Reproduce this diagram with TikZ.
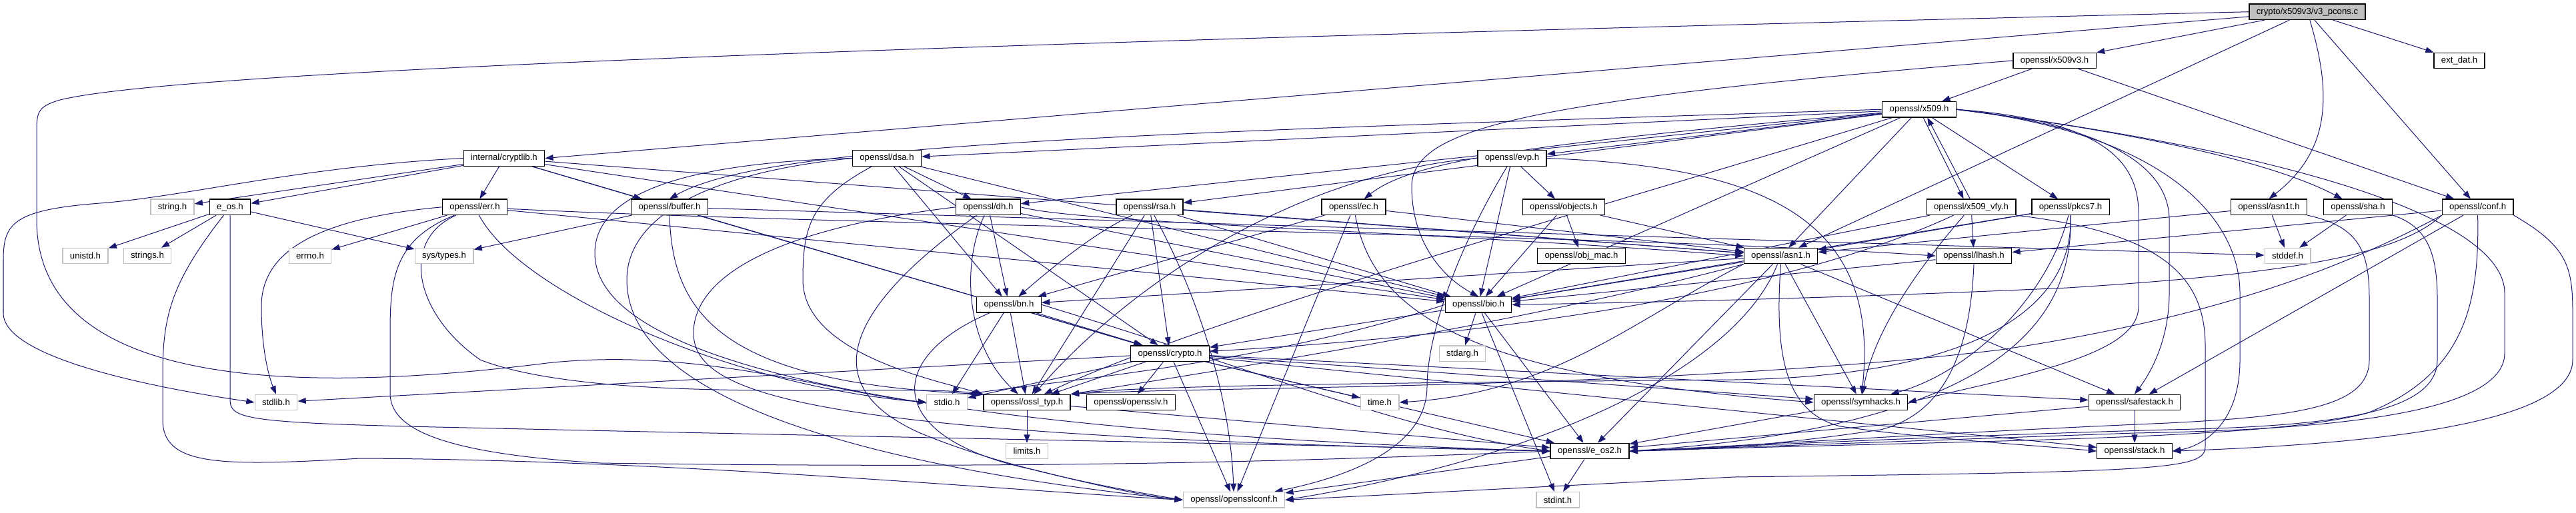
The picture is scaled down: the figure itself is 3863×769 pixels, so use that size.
\documentclass[tikz,border=0pt]{standalone}
\usepackage{fontspec}
\setmainfont{Liberation Sans}
\usepackage{xcolor}
\usetikzlibrary{arrows.meta}
\usetikzlibrary{backgrounds}
\definecolor{dxblue}{RGB}{25,25,112}
\definecolor{dxgrey}{RGB}{191,191,191}

\begin{document}
\begin{tikzpicture}[
    x=0.02cm, y=-0.02cm,
    %% ── Node styles ─────────────────────────────────────────────
    hdr/.style  ={draw=black, line width=0.75pt, fill=white,
                  minimum height=13.3pt, inner xsep=6.2pt, inner ysep=0pt,
                  font=\fontsize{7.5pt}{9pt}\selectfont},
    sysh/.style ={hdr, draw=dxgrey},
    srcf/.style ={hdr, fill=dxgrey},
    arr/.style  ={-{Triangle[length=7pt,width=5pt]}, line width=0.57pt, draw=dxblue}
]
    \useasboundingbox (0,0) rectangle (3863,769);

    %% ── Nodes ──────────────────────────────────────────────────
    \node[srcf] (src)       at (3460,  17.7) {crypto/x509v3/v3\_pcons.c};

    \node[hdr]  (xvthree)   at (3081,  91.0) {openssl/x509v3.h};
    \node[hdr]  (extdat)    at (3688,  91.0) {ext\_dat.h};

    \node[hdr]  (xfivenine) at (2878, 164.2) {openssl/x509.h};

    \node[hdr]  (cryptlib)  at (756,  237.5) {internal/cryptlib.h};
    \node[hdr]  (dsa)       at (1330, 237.5) {openssl/dsa.h};
    \node[hdr]  (evp)       at (2267.5,237.5) {openssl/evp.h};

    \node[sysh] (stringh)   at (258.5,310.8) {string.h};
    \node[hdr]  (eos)       at (345,  310.8) {e\_os.h};
    \node[hdr]  (err)       at (712,  310.8) {openssl/err.h};
    \node[hdr]  (buffer)    at (1004, 310.8) {openssl/buffer.h};
    \node[hdr]  (dh)        at (1482, 310.8) {openssl/dh.h};
    \node[hdr]  (rsa)       at (1724, 310.8) {openssl/rsa.h};
    \node[hdr]  (ec)        at (2030, 310.8) {openssl/ec.h};
    \node[hdr]  (objects)   at (2345, 310.8) {openssl/objects.h};
    \node[hdr]  (xvfy)      at (2956, 310.8) {openssl/x509\_vfy.h};
    \node[hdr]  (pkcs)      at (3105, 310.8) {openssl/pkcs7.h};
    \node[hdr]  (asnt)      at (3402.5,310.8) {openssl/asn1t.h};
    \node[hdr]  (sha)       at (3536, 310.8) {openssl/sha.h};
    \node[hdr]  (conf)      at (3715.6,310.8) {openssl/conf.h};

    \node[sysh] (unistd)    at (128,  384.1) {unistd.h};
    \node[sysh] (strings)   at (221,  384.1) {strings.h};
    \node[sysh] (errno)     at (465,  384.1) {errno.h};
    \node[sysh] (systypes)  at (666,  384.1) {sys/types.h};
    \node[hdr]  (objmac)    at (2371.5,384.1) {openssl/obj\_mac.h};
    \node[hdr]  (asn)       at (2670.5,384.1) {openssl/asn1.h};
    \node[hdr]  (lhash)     at (2960, 384.1) {openssl/lhash.h};
    \node[sysh] (stddef)    at (3430.5,384.1) {stddef.h};

    \node[hdr]  (bn)        at (1513, 457.3) {openssl/bn.h};
    \node[hdr]  (bio)       at (2217, 457.3) {openssl/bio.h};

    \node[hdr]  (crypto)    at (1754.5,530.6) {openssl/crypto.h};
    \node[sysh] (stdarg)    at (2193, 530.6) {stdarg.h};

    \node[sysh] (stdlib)    at (414,  603.9) {stdlib.h};
    \node[sysh] (stdio)     at (1420, 603.9) {stdio.h};
    \node[hdr]  (ossltyp)   at (1540, 603.9) {openssl/ossl\_typ.h};
    \node[hdr]  (opensslv)  at (1696, 603.9) {openssl/opensslv.h};
    \node[sysh] (timeh)     at (2069, 603.9) {time.h};
    \node[hdr]  (symhacks)  at (2790.5,603.9) {openssl/symhacks.h};
    \node[hdr]  (safestack) at (3201, 603.9) {openssl/safestack.h};

    \node[sysh] (limits)    at (1540, 677.1) {limits.h};
    \node[hdr]  (eostwo)    at (2384, 677.1) {openssl/e\_os2.h};
    \node[hdr]  (stack)     at (3201, 677.1) {openssl/stack.h};

    \node[sysh] (osslconf)  at (1850.5,750.4) {openssl/opensslconf.h};
    \node[sysh] (stdint)    at (2336, 750.4) {stdint.h};

    %% ── Arrows ──────────────────────────────────────────────────
    \begin{scope}[on background layer]
    % v3_pcons.c
    \draw[arr] (src.west) .. controls (1200,70) and (250,110) .. (90,150) .. controls (55,160) and (55,170) .. (55,200) -- (55,330) .. controls (55,600) and (500,585) .. (820,545) .. controls (1050,520) and (1250,590) .. (stdio.west);
    \draw[arr] (src) -- (cryptlib.east);
    \draw[arr] (src) -- (xvthree);
    \draw[arr] (src) -- (asn);
    \draw[arr] (src) .. controls (3500,150) and (3490,230) .. (asnt.north);
    \draw[arr] (src) -- (conf);
    \draw[arr] (src) -- (extdat);

    % x509v3.h
    \draw[arr] (xvthree) -- (xfivenine);
    \draw[arr] (xvthree) -- (conf);
    \draw[arr] (xvthree.west) .. controls (2300,150) and (2117,190) .. (2117,280) .. controls (2117,370) and (2170,420) .. (bio.north);

    % x509.h
    \draw[arr] (xfivenine) -- (dsa);
    \draw[arr] (xfivenine) -- (evp);
    \draw[arr] (xfivenine.west) .. controls (1700,200) and (1150,215) .. (buffer.north);
    \draw[arr] (xfivenine) -- (dh);
    \draw[arr] (xfivenine) -- (rsa);
    \draw[arr] (xfivenine) .. controls (2300,215) and (2120,240) .. (ec);
    \draw[arr] (xfivenine) -- (bio);
    \draw[arr] (xfivenine) -- (asn);
    \draw[arr] (xfivenine) -- ([xshift=-6.5pt]xvfy.north);
    \draw[arr] ([xshift=-1pt]xvfy.north) -- ([xshift=7pt]xfivenine.south);
    \draw[arr] (xfivenine) -- (pkcs);
    \draw[arr] (xfivenine.east) .. controls (3250,205) and (3420,250) .. (sha);
    \draw[arr] (xfivenine.east) .. controls (3150,180) and (3207,240) .. (3207,320) -- (3207,460) .. controls (3207,530) and (3050,560) .. (symhacks.east);
    \draw[arr] (xfivenine.east) .. controls (3180,190) and (3253,260) .. (3253,330) -- (3253,440) .. controls (3253,510) and (3225,560) .. (safestack.north);
    \draw[arr] (xfivenine.east) .. controls (3250,200) and (3359,330) .. (3359,440) -- (3359,540) .. controls (3359,640) and (3300,670) .. (stack.east);
    \draw[arr] (xfivenine.east) .. controls (3450,230) and (3756,330) .. (3756,440) -- (3756,530) .. controls (3756,620) and (3500,645) .. (3200,650) -- (eostwo.east);
    \draw[arr] (xfivenine) .. controls (2400,310) and (1800,480) .. (ossltyp);

    % internal/cryptlib.h
    \draw[arr] (cryptlib) -- (stringh);
    \draw[arr] (cryptlib) -- (eos);
    \draw[arr] (cryptlib) -- (err);
    \draw[arr] (cryptlib.west) .. controls (450,250) and (280,295) .. (150,305) .. controls (20,315) and (5,335) .. (5,390) -- (5,470) .. controls (5,540) and (250,585) .. (stdlib.west);
    \draw[arr] (cryptlib) -- (buffer);
    \draw[arr] (cryptlib) -- (crypto);
    \draw[arr] (cryptlib) -- (bio);
    \draw[arr] (cryptlib) -- (asn);

    % e_os.h
    \draw[arr] (eos) -- (unistd);
    \draw[arr] (eos) -- (strings);
    \draw[arr] (eos) -- (systypes);
    \draw[arr] (eos.south) -- (345,600) .. controls (345,630) and (370,635) .. (700,642) .. controls (1500,660) and (2000,668) .. (eostwo.west);
    \draw[arr] (eos) .. controls (260,420) and (244,470) .. (244,560) -- (244,630) .. controls (244,700) and (330,700) .. (540,688) .. controls (1000,690) and (1500,735) .. (osslconf.west);

    % openssl/err.h
    \draw[arr] (err) -- (errno);
    \draw[arr] (err.west) .. controls (450,330) and (392,390) .. (392,460) .. controls (392,530) and (405,570) .. (stdlib.north);
    \draw[arr] (err) .. controls (1300,340) and (2400,350) .. (lhash.west);
    \draw[arr] (err) -- (bio);
    \draw[arr] (err) .. controls (780,440) and (1100,580) .. (stdio.west);
    \draw[arr] (err) .. controls (600,360) and (620,470) .. (720,540) .. controls (900,610) and (1350,575) .. (ossltyp.north west);
    \draw[arr] (err) .. controls (590,360) and (585,420) .. (585,500) -- (585,590) .. controls (585,640) and (650,680) .. (900,695) .. controls (1600,705) and (2000,690) .. (eostwo.west);

    % openssl/buffer.h
    \draw[arr] (buffer) -- (systypes);
    \draw[arr] (buffer.south) .. controls (1008,470) and (1080,575) .. (ossltyp.north west);
    \draw[arr] (buffer) -- (crypto);
    \draw[arr] (buffer) -- (stddef);

    % openssl/dsa.h
    \draw[arr] (dsa) -- (dh);
    \draw[arr] (dsa) -- (bn);
    \draw[arr] (dsa) -- (bio);
    \draw[arr] (dsa) -- (crypto);
    \draw[arr] (dsa) .. controls (1215,300) and (1204,340) .. (1204,420) .. controls (1204,530) and (1400,570) .. (ossltyp.north west);
    \draw[arr] (dsa.west) .. controls (1000,245) and (892,300) .. (892,380) .. controls (892,560) and (1450,650) .. (eostwo.west);
    \draw[arr] (dsa.west) .. controls (1050,260) and (940,330) .. (940,420) .. controls (940,600) and (1300,700) .. (osslconf.west);

    % openssl/dh.h
    \draw[arr] (dh) -- (bn);
    \draw[arr] (dh.east) .. controls (1620,335) and (2100,345) .. (asn.west);
    \draw[arr] (dh) -- (bio);
    \draw[arr] (dh) .. controls (1440,400) and (1450,520) .. (ossltyp);
    \draw[arr] (dh.west) .. controls (1150,345) and (1040,420) .. (1040,500) .. controls (1040,600) and (1250,655) .. (eostwo.west);
    \draw[arr] (dh) .. controls (1300,440) and (1200,570) .. (1380,650) .. controls (1500,700) and (1650,730) .. (osslconf.west);

    % openssl/rsa.h
    \draw[arr] (rsa) -- (asn);
    \draw[arr] (rsa) -- (bio);
    \draw[arr] (rsa) -- (crypto);
    \draw[arr] (rsa) -- (ossltyp);
    \draw[arr] (rsa) .. controls (1640,350) and (1580,400) .. (bn);
    \draw[arr] (rsa) .. controls (1800,450) and (1845,600) .. (osslconf);

    % openssl/ec.h
    \draw[arr] (ec) -- (asn);
    \draw[arr] (ec) -- (bn);
    \draw[arr] (ec) -- (osslconf);
    \draw[arr] (ec) .. controls (2060,470) and (2200,565) .. (symhacks.west);

    % openssl/evp.h
    \draw[arr] (evp) -- (objects);
    \draw[arr] (evp) -- (bio);
    \draw[arr] (evp) .. controls (2170,400) and (2140,520) .. (2140,580) .. controls (2140,680) and (2000,720) .. (osslconf);
    \draw[arr] (evp.west) .. controls (1950,260) and (1700,420) .. (ossltyp);
    \draw[arr] (evp.east) .. controls (2650,250) and (2820,330) .. (symhacks);

    % openssl/objects.h
    \draw[arr] (objects) -- (objmac);
    \draw[arr] (objects) -- (bio);
    \draw[arr] (objects) -- (asn);

    % openssl/x509_vfy.h
    \draw[arr] (xvfy) -- (lhash);
    \draw[arr] (xvfy) -- (bio);
    \draw[arr] (xvfy) .. controls (2700,430) and (2300,500) .. (crypto);
    \draw[arr] (xvfy) .. controls (2870,410) and (2810,500) .. (symhacks);
    \draw[arr] (xvfy.south east) .. controls (3250,350) and (3307,420) .. (3307,520) -- (3307,670) .. controls (3307,705) and (3250,708) .. (2600,716) -- (osslconf.east);

    % openssl/pkcs7.h
    \draw[arr] (pkcs) -- (asn);
    \draw[arr] (pkcs) -- (bio);
    \draw[arr] (pkcs) .. controls (3070,450) and (2950,560) .. (symhacks);
    \draw[arr] (pkcs.south) .. controls (3110,480) and (3000,640) .. (eostwo.east);
    \draw[arr] (pkcs.south) .. controls (3110,470) and (2950,565) .. (2600,570) .. controls (2000,575) and (1700,580) .. (ossltyp.north east);

    % openssl/asn1t.h
    \draw[arr] (asnt) -- (asn);
    \draw[arr] (asnt) -- (stddef);
    \draw[arr] (asnt.south east) .. controls (3540,340) and (3553,380) .. (3553,450) -- (3553,540) .. controls (3553,610) and (3450,625) .. (3250,635) .. controls (2900,650) and (2600,670) .. (eostwo.east);

    % openssl/sha.h
    \draw[arr] (sha) -- (stddef);
    \draw[arr] (sha.south east) .. controls (3640,340) and (3655,380) .. (3655,450) -- (3655,540) .. controls (3655,620) and (3500,640) .. (3250,645) .. controls (2900,655) and (2600,670) .. (eostwo.east);

    % openssl/conf.h
    \draw[arr] (conf) -- (lhash);
    \draw[arr] (conf.south west) .. controls (3600,380) and (3450,410) .. (3100,432) .. controls (2700,450) and (2400,455) .. (bio.east);
    \draw[arr] (conf.south west) .. controls (3500,410) and (3300,480) .. (3000,525) .. controls (2500,585) and (1800,580) .. (ossltyp.north east);
    \draw[arr] (conf) -- (safestack);
    \draw[arr] (conf.south) .. controls (3718,450) and (3700,560) .. (3550,620) .. controls (3400,660) and (3000,660) .. (eostwo.east);
    \draw[arr] (conf.south east) .. controls (3850,370) and (3858,400) .. (3858,470) -- (3858,540) .. controls (3858,630) and (3600,665) .. (stack.east);

    % openssl/asn1.h
    \draw[arr] (asn) -- (bio);
    \draw[arr] (asn) -- (bn);
    \draw[arr] (asn.south west) .. controls (2450,480) and (2330,590) .. (timeh.east);
    \draw[arr] (asn) -- (eostwo);
    \draw[arr] (asn) .. controls (2600,560) and (2300,690) .. (osslconf.east);
    \draw[arr] (asn.south) .. controls (2660,540) and (2680,620) .. (2760,640) .. controls (2900,660) and (3050,668) .. (stack.west);
    \draw[arr] (asn) -- (symhacks);
    \draw[arr] (asn) -- (safestack);
    \draw[arr] (asn.south west) .. controls (2300,480) and (1900,545) .. (ossltyp.north east);

    % openssl/lhash.h
    \draw[arr] (lhash) -- (bio);
    \draw[arr] (lhash.south) .. controls (2955,520) and (2920,620) .. (2820,645) .. controls (2650,670) and (2550,675) .. (eostwo.east);

    % openssl/bn.h
    \draw[arr] (bn) -- (stdio);
    \draw[arr] (bn) -- (ossltyp);
    \draw[arr] (bn) -- (crypto);
    \draw[arr] (bn) .. controls (1320,540) and (1330,660) .. (1550,705) .. controls (1650,730) and (1720,745) .. (osslconf.west);
    \draw[arr] (bn.east) .. controls (1900,560) and (2100,645) .. (eostwo.west);

    % openssl/bio.h
    \draw[arr] (bio) -- (stdarg);
    \draw[arr] (bio) -- (crypto);
    \draw[arr] (bio.west) .. controls (1900,545) and (1600,570) .. (stdio.north east);
    \draw[arr] (bio) -- (eostwo);
    \draw[arr] (bio) -- (stdint);

    % openssl/crypto.h
    \draw[arr] (crypto) -- (stdlib);
    \draw[arr] (crypto) -- (stdio);
    \draw[arr] (crypto) -- (ossltyp);
    \draw[arr] (crypto) -- (opensslv);
    \draw[arr] (crypto) -- (osslconf);
    \draw[arr] (crypto) -- (timeh);
    \draw[arr] (crypto) -- (symhacks);
    \draw[arr] (crypto) -- (safestack);
    \draw[arr] (crypto) -- (eostwo);
    \draw[arr] (crypto) -- (stack);

    % leaves of the include tree
    \draw[arr] (ossltyp)   -- (limits);
    \draw[arr] (ossltyp)   -- (eostwo);
    \draw[arr] (safestack) -- (stack);
    \draw[arr] (safestack) -- (eostwo);
    \draw[arr] (symhacks)  -- (eostwo);
    \draw[arr] (eostwo)    -- (osslconf);
    \draw[arr] (eostwo)    -- (stdint);
    \end{scope}

\end{tikzpicture}
\end{document}
